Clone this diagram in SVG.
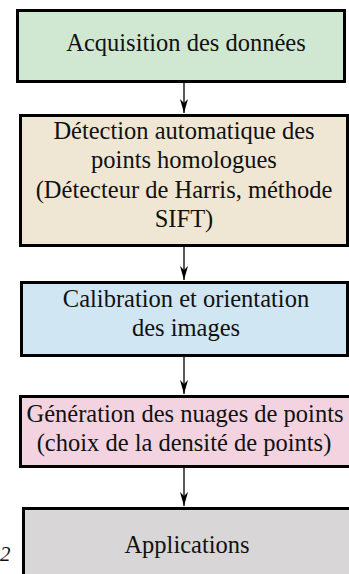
<svg xmlns="http://www.w3.org/2000/svg" width="349" height="574" viewBox="0 0 349 574">
<style>
.box{stroke:#000;stroke-width:3}
.t{font-family:"Liberation Serif","Times New Roman",serif;font-size:24.5px;fill:#111;text-anchor:middle}
.c{stroke:#000;stroke-width:1.3;fill:none}
</style>
<defs>
<marker id="ah" viewBox="0 0 14 8" refX="14" refY="4" markerWidth="14" markerHeight="8" markerUnits="userSpaceOnUse" orient="auto">
<path d="M0,0 L14,4 L0,8 L4,4 Z" fill="#000"/>
</marker>
</defs>
<rect width="349" height="574" fill="#fff"/>
<g id="n1">
<rect class="box" x="17.5" y="10.5" width="327" height="71" fill="#d0e8d2"/>
<text class="t" x="186" y="51">Acquisition des données</text>
</g>
<g id="n2">
<rect class="box" x="20.5" y="115.5" width="327" height="130" fill="#efe7d3"/>
<text class="t" x="184" y="139">Détection automatique des</text>
<text class="t" x="184" y="168">points homologues</text>
<text class="t" x="184" y="198">(Détecteur de Harris, méthode</text>
<text class="t" x="184" y="227">SIFT)</text>
</g>
<g id="n3">
<rect class="box" x="21.5" y="282.5" width="326" height="73" fill="#d0e6f3"/>
<text class="t" x="186" y="307">Calibration et orientation</text>
<text class="t" x="186" y="336">des images</text>
</g>
<g id="n4">
<rect class="box" x="20.5" y="396.5" width="331" height="70" fill="#f3d3e0"/>
<text class="t" x="185" y="422">Génération des nuages de points</text>
<text class="t" x="184" y="451">(choix de la densité de points)</text>
</g>
<g id="n5">
<rect class="box" x="23.5" y="508.5" width="330" height="80" fill="#d8d6d6"/>
<text class="t" x="187" y="553">Applications</text>
</g>
<text x="0" y="561" font-family="Liberation Serif,serif" font-style="italic" font-size="21" fill="#111">2</text>
<g id="connectors">
<line class="c" x1="184" y1="83" x2="184" y2="113" marker-end="url(#ah)"/>
<line class="c" x1="184" y1="247" x2="184" y2="280" marker-end="url(#ah)"/>
<line class="c" x1="184" y1="357" x2="184" y2="394" marker-end="url(#ah)"/>
<line class="c" x1="184" y1="468" x2="184" y2="506" marker-end="url(#ah)"/>
</g>
</svg>
